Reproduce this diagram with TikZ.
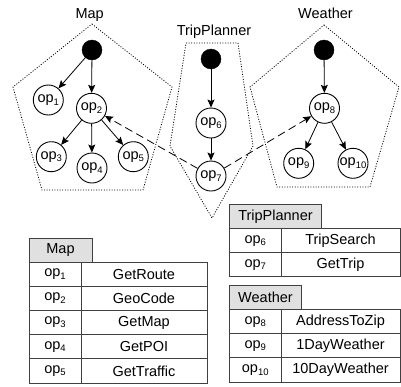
\documentclass[tikz,border=0pt]{standalone}
\usepackage{fontspec}
\setmainfont{Liberation Sans}
\usetikzlibrary{arrows.meta}
\newcommand\opn[1]{op\raisebox{-0.35ex}{\fontsize{9.5}{10}\selectfont #1}}
\begin{document}
\begin{tikzpicture}[x=1pt,y=-1pt,
  font=\fontsize{14.5}{16}\selectfont,
  opnode/.style={circle,draw,line width=0.9pt,minimum size=30pt,inner sep=0pt},
  rootnode/.style={circle,fill=black,draw,minimum size=20pt,inner sep=0pt},
  arr/.style={-{Stealth[length=8pt,width=7pt,inset=1.5pt]},line width=0.8pt},
  darr/.style={arr,dash pattern=on 8pt off 4.5pt},
  svc/.style={dash pattern=on 1pt off 1.6pt,line width=0.8pt},
  cell/.style={draw=black!75,line width=0.9pt,inner sep=0pt,outer sep=0pt,minimum height=24.2pt,anchor=north west},
  head/.style={cell,fill=black!12,minimum height=24pt},
]
\useasboundingbox (0,0) rectangle (401,386);

% service boundaries
\draw[svc] (92,24) -- (172,87) -- (143,190) -- (42,190) -- (13,87) -- cycle;
\draw[svc] (186,43) -- (238,43) -- (253,146) -- (212,218) -- (170,146) -- cycle;
\draw[svc] (324,25) -- (399,87) -- (370,187) -- (277,187) -- (250,87) -- cycle;

% labels
\node[anchor=base] (lmap) at (89.7,18) {Map};
\node[anchor=base] (ltrip) at (214,35) {TripPlanner};
\node[anchor=base] (lwea) at (325.5,18) {Weather};

% Map
\node[rootnode] (m0) at (92,50) {};
\node[opnode] (op1) at (48.3,100) {\opn{1}};
\node[opnode] (op2) at (91.5,108.3) {\opn{2}};
\node[opnode] (op3) at (51.3,156.7) {\opn{3}};
\node[opnode] (op4) at (92,168) {\opn{4}};
\node[opnode] (op5) at (133.3,156.7) {\opn{5}};
% TripPlanner
\node[rootnode] (t0) at (211,59) {};
\node[opnode] (op6) at (211,123) {\opn{6}};
\node[opnode] (op7) at (211,176) {\opn{7}};
% Weather
\node[rootnode] (w0) at (324,50) {};
\node[opnode] (op8) at (324.5,108.3) {\opn{8}};
\node[opnode] (op9) at (298.7,163.3) {\opn{9}};
\node[opnode] (op10) at (353,163.3) {\opn{10}};

\draw[arr] (m0) -- (op1);
\draw[arr] (m0) -- (op2);
\draw[arr] (op2) -- (op3);
\draw[arr] (op2) -- (op4);
\draw[arr] (op2) -- (op5);
\draw[arr] (t0) -- (op6);
\draw[arr] (op6) -- (op7);
\draw[arr] (w0) -- (op8);
\draw[arr] (op8) -- (op9);
\draw[arr] (op8) -- (op10);
\draw[darr] (op7) -- (op2);
\draw[darr] (op7) -- (op8);

% Map table
\node[head,minimum width=63pt] (mh) at (29,238) {Map};
\node[cell,minimum width=52pt] (ma1) at (29,262) {\opn{1}};
\node[cell,minimum width=126pt] (mb1) at (81,262) {GetRoute};
\node[cell,minimum width=52pt] (ma2) at (29,286.2) {\opn{2}};
\node[cell,minimum width=126pt] (mb2) at (81,286.2) {GeoCode};
\node[cell,minimum width=52pt] (ma3) at (29,310.4) {\opn{3}};
\node[cell,minimum width=126pt] (mb3) at (81,310.4) {GetMap};
\node[cell,minimum width=52pt] (ma4) at (29,334.6) {\opn{4}};
\node[cell,minimum width=126pt] (mb4) at (81,334.6) {GetPOI};
\node[cell,minimum width=52pt] (ma5) at (29,358.8) {\opn{5}};
\node[cell,minimum width=126pt] (mb5) at (81,358.8) {GetTraffic};

% TripPlanner table
\node[head,minimum width=92pt] (th) at (229.5,204.5) {TripPlanner};
\node[cell,minimum width=51.5pt] (ta6) at (229.5,228.5) {\opn{6}};
\node[cell,minimum width=119pt] (tb6) at (281,228.5) {TripSearch};
\node[cell,minimum width=51.5pt] (ta7) at (229.5,252.7) {\opn{7}};
\node[cell,minimum width=119pt] (tb7) at (281,252.7) {GetTrip};

% Weather table
\node[head,minimum width=72pt] (wh) at (229.5,285.5) {Weather};
\node[cell,minimum width=51.5pt] (wa8) at (229.5,309.5) {\opn{8}};
\node[cell,minimum width=119pt] (wb8) at (281,309.5) {AddressToZip};
\node[cell,minimum width=51.5pt] (wa9) at (229.5,333.7) {\opn{9}};
\node[cell,minimum width=119pt] (wb9) at (281,333.7) {1DayWeather};
\node[cell,minimum width=51.5pt] (wa10) at (229.5,357.9) {\opn{10}};
\node[cell,minimum width=119pt] (wb10) at (281,357.9) {10DayWeather};
\end{tikzpicture}
\end{document}
